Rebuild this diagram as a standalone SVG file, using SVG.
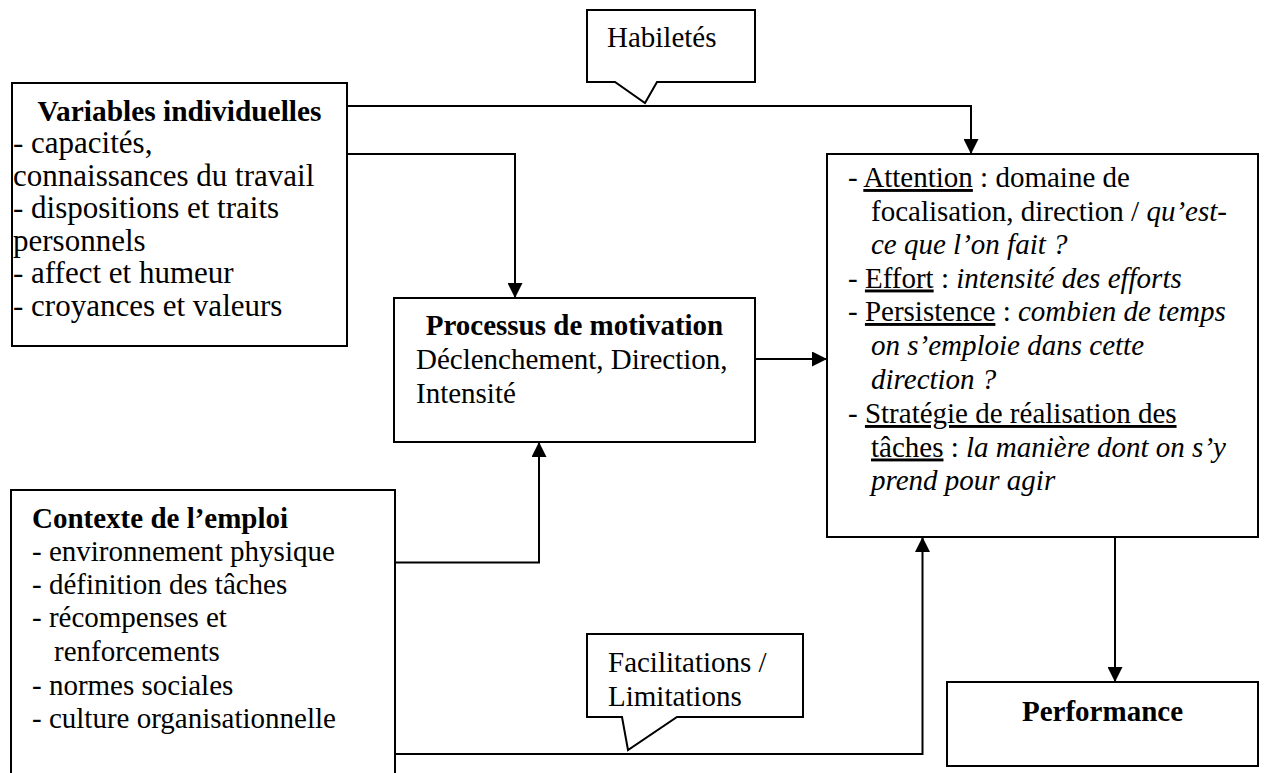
<svg xmlns="http://www.w3.org/2000/svg" width="1267" height="773" viewBox="0 0 1267 773">
<defs>
<style>
text{font-family:"Liberation Serif","Times New Roman",serif;font-size:29px;fill:#000}
.b{font-weight:bold}
.i{font-style:italic}
.u{text-decoration:underline}
.big{font-size:31px}
.box{fill:#fff;stroke:#000;stroke-width:2}
.ln{fill:none;stroke:#000;stroke-width:2;marker-end:url(#ah)}
</style>
<marker id="ah" markerUnits="userSpaceOnUse" markerWidth="15" markerHeight="15" refX="15" refY="7.5" orient="auto">
<path d="M0,0 L15,7.5 L0,15 Z" fill="#000"/>
</marker>
</defs>
<rect width="1267" height="773" fill="#fff"/>
<g id="connectors">
<path class="ln" d="M347,106 H971 V154"/>
<path class="ln" d="M347,154 H515 V298"/>
<path class="ln" d="M755,359 H827"/>
<path class="ln" d="M395,562.5 H539 V442"/>
<path class="ln" d="M395,754 H922.5 V537"/>
<path class="ln" d="M1115,537 V682"/>
</g>
<g id="habiletes">
<path class="box" d="M587,10 H755 V82 H657 L645,103 L615,82 H587 Z"/>
<text x="607" y="47">Habiletés</text>
</g>
<g id="variables">
<rect class="box" x="12" y="83" width="335" height="263"/>
<text class="b" x="179.5" y="121" text-anchor="middle" style="font-size:29.4px">Variables individuelles</text>
<text class="big" x="13" y="153">- capacités,</text>
<text class="big" x="13" y="185.5">connaissances du travail</text>
<text class="big" x="13" y="218">- dispositions et traits</text>
<text class="big" x="13" y="250.5">personnels</text>
<text class="big" x="13" y="283">- affect et humeur</text>
<text class="big" x="13" y="315.5">- croyances et valeurs</text>
</g>
<g id="processus">
<rect class="box" x="394" y="298" width="361" height="144"/>
<text class="b" x="574.5" y="335" text-anchor="middle">Processus de motivation</text>
<text x="416" y="369">Déclenchement, Direction,</text>
<text x="416" y="403">Intensité</text>
</g>
<g id="comportements">
<rect class="box" x="827" y="154" width="431" height="383"/>
<text x="848" y="187">- <tspan class="u">Attention</tspan> : domaine de</text>
<text x="871" y="220.5">focalisation, direction / <tspan class="i">qu’est-</tspan></text>
<text class="i" x="871" y="254">ce que l’on fait ?</text>
<text x="848" y="287.5">- <tspan class="u">Effort</tspan> : <tspan class="i">intensité des efforts</tspan></text>
<text x="848" y="321">- <tspan class="u">Persistence</tspan> : <tspan class="i">combien de temps</tspan></text>
<text class="i" x="871" y="355">on s’emploie dans cette</text>
<text class="i" x="871" y="389">direction ?</text>
<text x="848" y="423">- <tspan class="u">Stratégie de réalisation des</tspan></text>
<text x="871" y="456.5"><tspan class="u">tâches</tspan> : <tspan class="i">la manière dont on s’y</tspan></text>
<text class="i" x="871" y="490">prend pour agir</text>
</g>
<g id="contexte">
<path class="box" d="M11,800 V490 H395 V800"/>
<text class="b" x="32" y="528">Contexte de l’emploi</text>
<text x="32" y="561">- environnement physique</text>
<text x="32" y="594">- définition des tâches</text>
<text x="32" y="627">- récompenses et</text>
<text x="54" y="661">renforcements</text>
<text x="32" y="695">- normes sociales</text>
<text x="32" y="728">- culture organisationnelle</text>
</g>
<g id="facilitations">
<path class="box" d="M587,634 H803 V717 H677 L628,750 L622,717 H587 Z"/>
<text x="608" y="672">Facilitations /</text>
<text x="608" y="706">Limitations</text>
</g>
<g id="performance">
<rect class="box" x="947" y="682" width="311" height="84"/>
<text class="b" x="1102.5" y="721" text-anchor="middle">Performance</text>
</g>
</svg>
